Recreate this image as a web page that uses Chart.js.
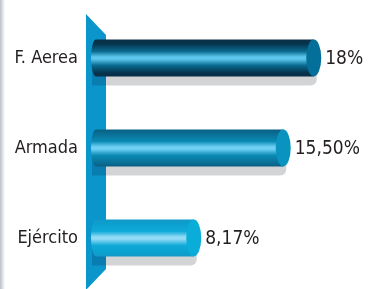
<!DOCTYPE html>
<html><head><meta charset="utf-8">
<script src="https://cdn.jsdelivr.net/npm/chart.js@4"></script>
<style>html,body{margin:0;padding:0;background:#fff}#wrap{width:388px;height:289px;position:relative}</style>
</head><body><div id="wrap"><canvas id="c" width="388" height="289"></canvas></div>
<script>
const categories = ["F. Aerea", "Armada", "Ejército"];
const values = [18, 15.5, 8.17];
const valueLabels = ["18%", "15,50%", "8,17%"];
const tones = [
  {edge:"#0a2f45", dark:"#06344e", mid:"#0a6a90", light:"#5cc6ec", cap:"#04709a"},
  {edge:"#0a5f82", dark:"#0a6f96", mid:"#0a8ab4", light:"#6fd0f4", cap:"#0a93bf"},
  {edge:"#1499c6", dark:"#0aa0cf", mid:"#10aad8", light:"#92dbf6", cap:"#0aacd8"}
];
const FONT = "'DejaVu Sans Condensed','Liberation Sans Narrow',Roboto,sans-serif";

const cylPlugin = {
  id: 'cyl',
  beforeDatasetsDraw(chart) {
    const ctx = chart.ctx, a = chart.chartArea;
    const meta = chart.getDatasetMeta(0);
    const wl = a.left - 8, wr = a.left + 12, wt = a.top + 1, wb = chart.height + 1;
    ctx.save();
    ctx.beginPath();
    ctx.moveTo(wl, wt); ctx.lineTo(wr, wt + 21); ctx.lineTo(wr, wb - 21); ctx.lineTo(wl, wb); ctx.closePath();
    ctx.fillStyle = "#0a96cb"; ctx.fill();
    ctx.restore();
    const g0 = ctx.createLinearGradient(0,0,5,0);
    g0.addColorStop(0,"#b9c0c6"); g0.addColorStop(1,"#ffffff");
    ctx.fillStyle = g0; ctx.fillRect(0,0,5,chart.height);
    meta.data.forEach((bar, i) => {
      const t = tones[i];
      const h = bar.height, top = bar.y - h/2, bot = bar.y + h/2;
      const left = a.left - 3, right = bar.x;
      const rx = 7.5;
      ctx.save();
      ctx.beginPath();
      ctx.roundRect(left + 1, top + 9, right - left + 2, h, [0, 6, 6, 0]);
      ctx.clip();
      ctx.fillStyle = "#d3d4d6"; ctx.fillRect(wr, top, right + 20 - wr, h + 20);
      ctx.fillStyle = "#0a7db0"; ctx.fillRect(wl - 2, top, wr - wl + 2, h + 20);
      ctx.restore();
      const g = ctx.createLinearGradient(0, top, 0, bot);
      g.addColorStop(0, t.edge); g.addColorStop(0.12, t.dark); g.addColorStop(0.32, t.mid);
      g.addColorStop(0.47, t.light); g.addColorStop(0.53, t.light); g.addColorStop(0.7, t.mid);
      g.addColorStop(0.9, t.dark); g.addColorStop(1, t.edge);
      ctx.save();
      ctx.beginPath();
      ctx.moveTo(right, top);
      ctx.lineTo(left + 5, top);
      ctx.ellipse(left + 5, bar.y, 5, h/2, 0, -Math.PI/2, Math.PI/2, true);
      ctx.lineTo(right, bot);
      ctx.closePath();
      ctx.fillStyle = g; ctx.fill();
      ctx.beginPath();
      ctx.ellipse(right, bar.y, rx, h/2, 0, 0, Math.PI*2);
      ctx.fillStyle = t.cap; ctx.fill();
      ctx.restore();
      ctx.save();
      ctx.fillStyle = "#231f20";
      ctx.font = "19px " + FONT;
      ctx.textBaseline = "middle"; ctx.textAlign = "left";
      ctx.fillText(valueLabels[i], right + rx + 4, bar.y + 1);
      ctx.restore();
    });
  }
};

new Chart(document.getElementById('c'), {
  type: 'bar',
  data: { labels: categories, datasets: [{ data: values, backgroundColor: 'rgba(0,0,0,0)', barThickness: 37 }] },
  options: {
    indexAxis: 'y', responsive: false, animation: false, events: [],
    layout: { padding: { top: 13, bottom: 6, left: 0, right: 1 } },
    plugins: { legend: { display: false }, tooltip: { enabled: false } },
    scales: {
      x: { display: false, min: 0, max: 24 },
      y: {
        grid: { display: false, drawTicks: false }, border: { display: false },
        ticks: { color: "#231f20", font: { family: FONT, size: 18 }, padding: 16 },
        afterFit(s) { s.width = 94; s.paddingTop = 0; s.paddingBottom = 0; }
      }
    }
  },
  plugins: [cylPlugin]
});
</script></body></html>
